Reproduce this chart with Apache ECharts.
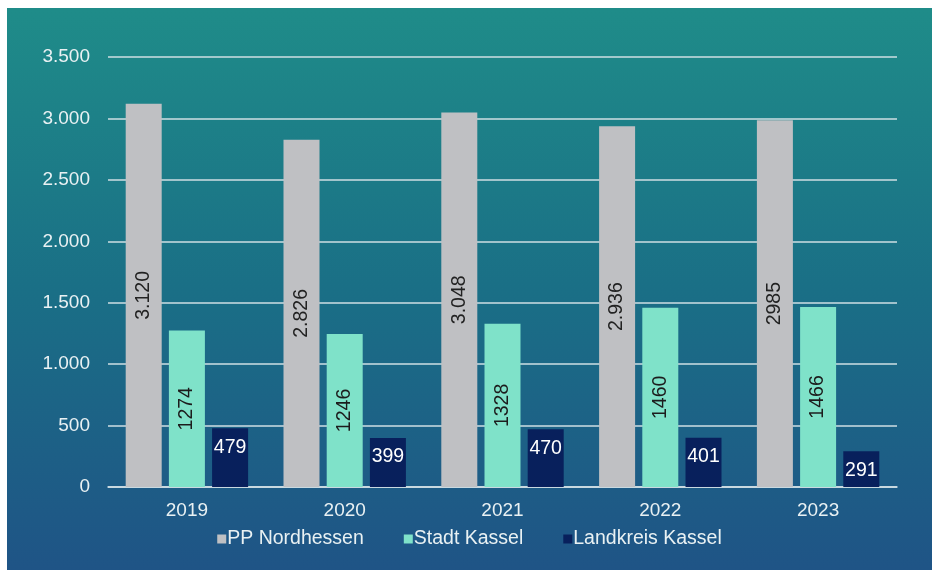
<!DOCTYPE html>
<html>
<head>
<meta charset="utf-8">
<script src="https://cdn.jsdelivr.net/npm/echarts@6/dist/echarts.min.js"></script>
<style>
  html, body { margin: 0; padding: 0; background: #ffffff; width: 932px; height: 570px; overflow: hidden; }
  #chart { position: absolute; left: 7px; top: 8px; width: 925px; height: 562px; }
</style>
</head>
<body>
<div id="chart"></div>
<script>
// Jahre auf der Kategorienachse
const years = ['2019', '2020', '2021', '2022', '2023'];

// Fallzahlen je Bereich
const ppNordhessen = [3120, 2826, 3048, 2936, 2985];
const stadtKassel = [1274, 1246, 1328, 1460, 1466];
const landkreisKassel = [479, 399, 470, 401, 291];

// Beschriftungen der grauen Säulen, so wie sie gesetzt sind
const ppLabels = ['3.120', '2.826', '3.048', '2.936', '2985'];

const seriesNames = ['PP Nordhessen', 'Stadt Kassel', 'Landkreis Kassel'];

const fontFamily = '"Liberation Sans", Arial, sans-serif';
const textLight = '#e9f1f3';

const chart = echarts.init(document.getElementById('chart'), null, { renderer: 'canvas' });

chart.setOption({
  backgroundColor: {
    type: 'linear', x: 0, y: 0, x2: 0, y2: 1,
    colorStops: [
      { offset: 0, color: '#1f8c89' },
      { offset: 0.5, color: '#1a6f86' },
      { offset: 1, color: '#1f5486' }
    ]
  },
  textStyle: { fontFamily: fontFamily },
  animation: false,
  grid: { left: 101, right: 35, top: 49, bottom: 83, containLabel: false },
  legend: {
    data: seriesNames,
    bottom: 16,
    left: 'center',
    itemWidth: 9,
    itemHeight: 9,
    itemGap: 40,
    icon: 'rect',
    textStyle: { color: textLight, fontSize: 19.5, fontFamily: fontFamily, padding: [0, 0, 0, -4] }
  },
  xAxis: {
    type: 'category',
    data: years,
    axisLine: { show: true, lineStyle: { color: '#d6e2e6', width: 1.5 } },
    axisTick: { show: false },
    axisLabel: { color: textLight, fontSize: 19, margin: 14, fontFamily: fontFamily }
  },
  yAxis: {
    type: 'value',
    min: 0,
    max: 3500,
    interval: 500,
    axisLine: { show: false },
    axisTick: { show: false },
    splitLine: { lineStyle: { color: '#cfdfe3', width: 1.5 } },
    axisLabel: {
      color: textLight, fontSize: 19, margin: 18, fontFamily: fontFamily,
      formatter: function (v) { return v.toLocaleString('de-DE'); }
    }
  },
  series: [
    {
      name: seriesNames[0],
      type: 'bar',
      data: ppNordhessen,
      barWidth: 36,
      barGap: '20%',
      itemStyle: { color: '#bfc0c3' },
      label: {
        show: true, position: 'inside', rotate: 90,
        color: '#222222', fontSize: 19.5, fontFamily: fontFamily,
        formatter: function (p) { return ppLabels[p.dataIndex]; }
      }
    },
    {
      name: seriesNames[1],
      type: 'bar',
      data: stadtKassel,
      barWidth: 36,
      barGap: '20%',
      itemStyle: { color: '#7fe2c9' },
      label: {
        show: true, position: 'inside', rotate: 90,
        color: '#1c1c1c', fontSize: 19.5, fontFamily: fontFamily
      }
    },
    {
      name: seriesNames[2],
      type: 'bar',
      data: landkreisKassel,
      barWidth: 36,
      barGap: '20%',
      itemStyle: { color: '#08205c' },
      label: {
        show: true, position: 'insideTop', distance: 9,
        color: '#ffffff', fontSize: 19.5, fontFamily: fontFamily
      }
    }
  ]
});
</script>
</body>
</html>
